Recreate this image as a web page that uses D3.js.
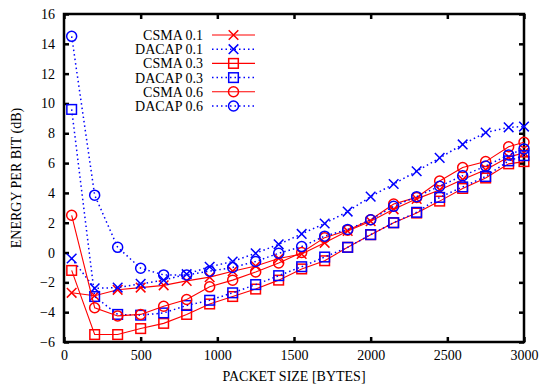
<!DOCTYPE html>
<html>
<head>
<meta charset="utf-8">
<script src="https://cdn.jsdelivr.net/npm/d3@7"></script>
<style>
  html, body { margin: 0; padding: 0; background: #fff; }
  svg { display: block; }
  text { font-family: "Liberation Serif", "Times New Roman", serif; font-size: 14px; fill: #000; }
</style>
</head>
<body>
<svg id="chart" width="539" height="385"></svg>
<script>
// Packet sizes (bytes)
const packetSizes = [50, 200, 350, 500, 650, 800, 950, 1100, 1250, 1400, 1550, 1700, 1850, 2000, 2150, 2300, 2450, 2600, 2750, 2900, 3000];

// Energy per bit (dB) for each protocol / load
const csma01  = [-2.7, -2.9, -2.5, -2.35, -2.2, -1.9, -1.65, -1.25, -0.9, -0.4, -0.1, 0.65, 1.45, 2.1, 2.9, 3.6, 4.2, 4.9, 5.55, 6.4, 6.7];
const dacap01 = [-0.4, -2.4, -2.35, -2.1, -1.85, -1.45, -0.95, -0.6, -0.05, 0.55, 1.25, 1.95, 2.75, 3.75, 4.6, 5.45, 6.35, 7.25, 8.05, 8.4, 8.45];
const csma03  = [-1.2, -5.5, -5.5, -5.1, -4.75, -4.15, -3.45, -2.95, -2.45, -1.85, -1.1, -0.55, 0.35, 1.2, 2.0, 2.65, 3.45, 4.3, 5.0, 5.95, 6.1];
const dacap03 = [9.6, -2.95, -4.15, -4.2, -4.05, -3.55, -3.2, -2.7, -2.15, -1.55, -0.95, -0.3, 0.35, 1.2, 2.0, 2.7, 3.7, 4.4, 5.1, 6.15, 6.5];
const csma06  = [2.5, -3.7, -4.25, -4.15, -3.6, -3.15, -2.3, -1.85, -1.3, -0.7, 0.0, 1.0, 1.5, 2.2, 3.25, 3.7, 4.8, 5.7, 6.1, 7.1, 7.4];
const dacap06 = [14.5, 3.85, 0.35, -1.05, -1.5, -1.5, -1.25, -1.0, -0.6, -0.05, 0.4, 1.1, 1.55, 2.2, 3.1, 3.75, 4.45, 5.15, 5.8, 6.55, 6.95];

const seriesNames = ["CSMA 0.1", "DACAP 0.1", "CSMA 0.3", "DACAP 0.3", "CSMA 0.6", "DACAP 0.6"];
const seriesValues = [csma01, dacap01, csma03, dacap03, csma06, dacap06];
const seriesMarkers = ["cross", "cross", "square", "square", "circle", "circle"];
const seriesKinds = ["csma", "dacap", "csma", "dacap", "csma", "dacap"];

const xTicks = [0, 500, 1000, 1500, 2000, 2500, 3000];
const yTicks = [-6, -4, -2, 0, 2, 4, 6, 8, 10, 12, 14, 16];

const svg = d3.select("#chart");
const plotLeft = 64, plotRight = 524, plotTop = 14, plotBottom = 342;

const x = d3.scaleLinear().domain([0, 3000]).range([plotLeft, plotRight]);
const y = d3.scaleLinear().domain([-6, 16]).range([plotBottom, plotTop]);
const fmt = d3.format("d");

const styles = {
  csma:  { color: "#ff0000", dash: null, width: 1.1 },
  dacap: { color: "#0000ff", dash: "1.5,3", width: 1.5 }
};

// Axes: ticks point inward and are mirrored on the opposite sides
const tickLen = 5;
svg.append("g").attr("transform", `translate(0,${plotBottom})`)
  .call(d3.axisBottom(x).tickValues(xTicks).tickFormat(fmt).tickSizeInner(-tickLen).tickSizeOuter(0).tickPadding(8))
  .call(g => g.select(".domain").remove());
svg.append("g").attr("transform", `translate(0,${plotTop})`)
  .call(d3.axisTop(x).tickValues(xTicks).tickSizeInner(-tickLen).tickSizeOuter(0).tickFormat(""))
  .call(g => g.select(".domain").remove());
svg.append("g").attr("transform", `translate(${plotLeft},0)`)
  .call(d3.axisLeft(y).tickValues(yTicks).tickFormat(fmt).tickSizeInner(-tickLen).tickSizeOuter(0).tickPadding(9))
  .call(g => g.select(".domain").remove());
svg.append("g").attr("transform", `translate(${plotRight},0)`)
  .call(d3.axisRight(y).tickValues(yTicks).tickSizeInner(-tickLen).tickSizeOuter(0).tickFormat(""))
  .call(g => g.select(".domain").remove());

svg.selectAll(".tick line").attr("stroke", "#000").attr("stroke-width", 2.5);
svg.selectAll(".tick text").style("font-family", "'Liberation Serif', serif").style("font-size", "14px");

// Frame
svg.append("rect")
  .attr("x", plotLeft).attr("y", plotTop)
  .attr("width", plotRight - plotLeft).attr("height", plotBottom - plotTop)
  .attr("fill", "none").attr("stroke", "#000").attr("stroke-width", 2.5);

// Axis titles
svg.append("text")
  .attr("x", (plotLeft + plotRight) / 2).attr("y", 381)
  .attr("text-anchor", "middle")
  .text("PACKET SIZE [BYTES]");
svg.append("text")
  .attr("transform", `translate(21,${(plotTop + plotBottom) / 2}) rotate(-90)`)
  .attr("text-anchor", "middle")
  .text("ENERGY PER BIT (dB)");

function drawMarker(g, kind, cx, cy, color) {
  if (kind === "cross") {
    const s = 4.8;
    g.append("path")
      .attr("d", `M${cx - s},${cy - s}L${cx + s},${cy + s}M${cx - s},${cy + s}L${cx + s},${cy - s}`)
      .attr("stroke", color).attr("stroke-width", 1.5).attr("fill", "none");
  } else if (kind === "square") {
    const s = 4.8;
    g.append("rect")
      .attr("x", cx - s).attr("y", cy - s).attr("width", 2 * s).attr("height", 2 * s)
      .attr("stroke", color).attr("stroke-width", 1.5).attr("fill", "none");
  } else {
    g.append("circle")
      .attr("cx", cx).attr("cy", cy).attr("r", 5)
      .attr("stroke", color).attr("stroke-width", 1.5).attr("fill", "none");
  }
}

const line = d3.line().x(d => x(d[0])).y(d => y(d[1]));
const plot = svg.append("g");

seriesValues.forEach((vals, i) => {
  const st = styles[seriesKinds[i]];
  const pts = packetSizes.map((p, j) => [p, vals[j]]);
  plot.append("path")
    .datum(pts)
    .attr("d", line)
    .attr("fill", "none")
    .attr("stroke", st.color)
    .attr("stroke-width", st.width)
    .attr("stroke-dasharray", st.dash);
  const mg = plot.append("g");
  pts.forEach(p => drawMarker(mg, seriesMarkers[i], x(p[0]), y(p[1]), st.color));
});

// Legend
const legend = svg.append("g");
seriesNames.forEach((name, i) => {
  const st = styles[seriesKinds[i]];
  const ly = 35 + i * 14.2;
  legend.append("text")
    .attr("x", 203).attr("y", ly).attr("dy", "0.35em")
    .attr("text-anchor", "end")
    .text(name);
  legend.append("line")
    .attr("x1", 212).attr("x2", 255).attr("y1", ly).attr("y2", ly)
    .attr("stroke", st.color).attr("stroke-width", st.width)
    .attr("stroke-dasharray", st.dash);
  drawMarker(legend, seriesMarkers[i], 233.5, ly, st.color);
});
</script>
</body>
</html>
